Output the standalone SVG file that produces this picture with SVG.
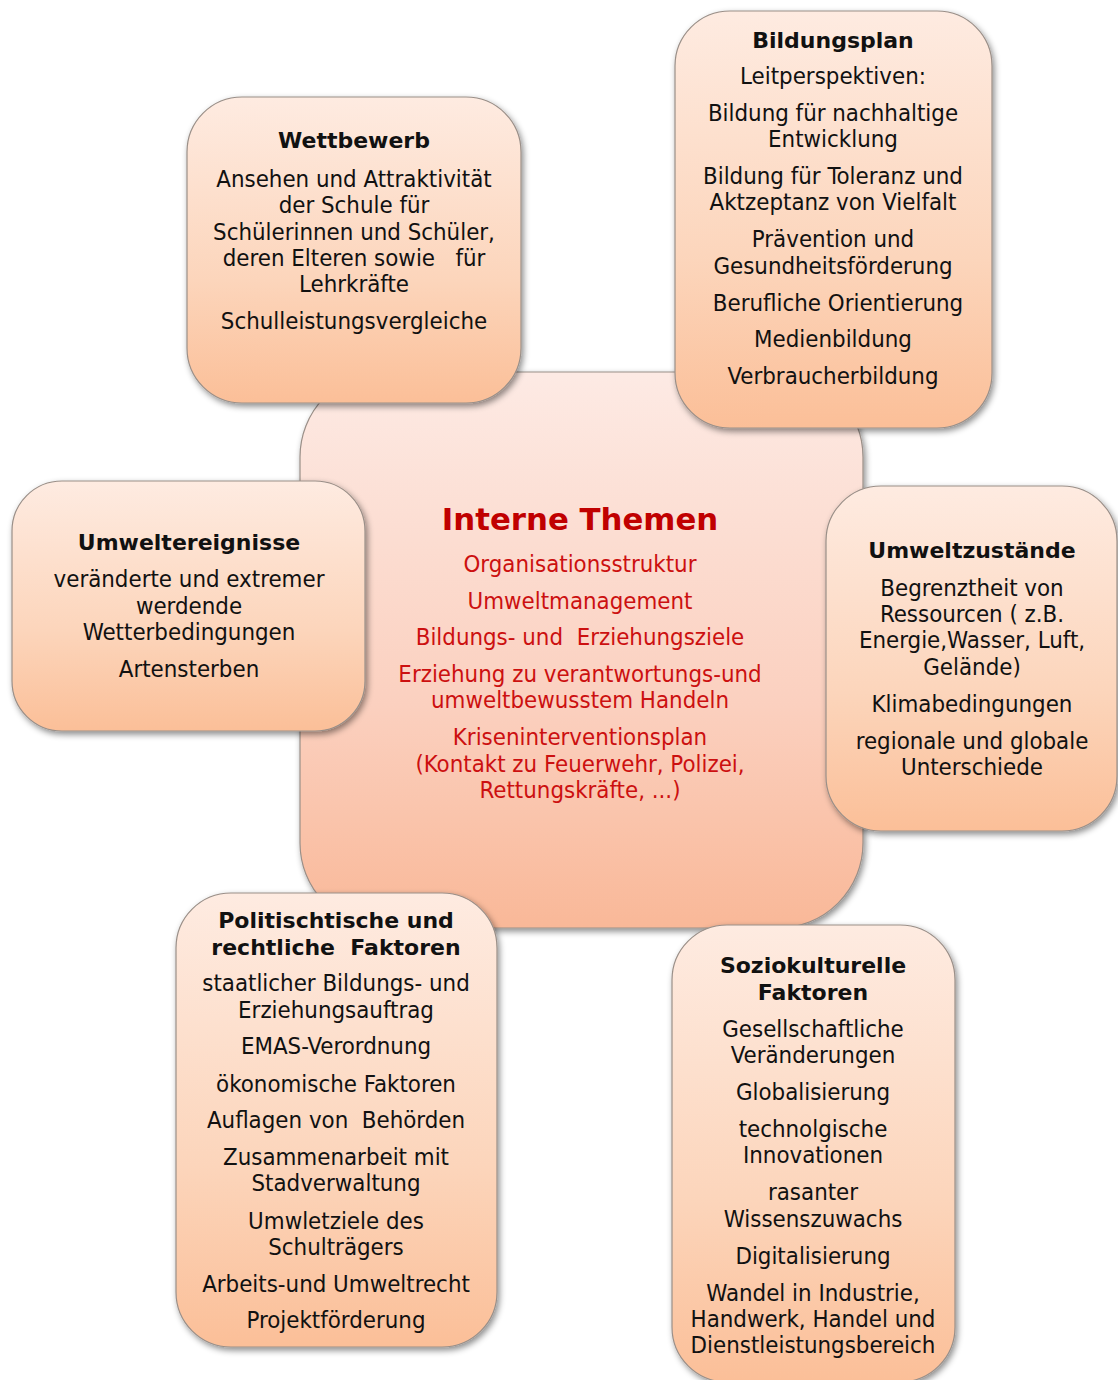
<svg xmlns="http://www.w3.org/2000/svg" width="1118" height="1380" viewBox="0 0 1118 1380">
<defs>
<linearGradient id="gSat" x1="0" y1="0" x2="0" y2="1">
<stop offset="0" stop-color="#feebe1"/>
<stop offset="0.6" stop-color="#fcd5bb"/>
<stop offset="1" stop-color="#fbbf98"/>
</linearGradient>
<linearGradient id="gCen" x1="0" y1="0" x2="0" y2="1">
<stop offset="0" stop-color="#fdeae4"/>
<stop offset="0.6" stop-color="#fbd0bf"/>
<stop offset="1" stop-color="#f9b898"/>
</linearGradient>
<filter id="sh" x="-10%" y="-10%" width="125%" height="125%">
<feDropShadow dx="2" dy="3" stdDeviation="3" flood-color="#000" flood-opacity="0.45"/>
</filter>
</defs>
<style>
.box{stroke:#9a8f88;stroke-width:1.2;filter:url(#sh)}
.sat{fill:url(#gSat)}
.cen{fill:url(#gCen)}
text{font-family:"DejaVu Sans Condensed","DejaVu Sans",sans-serif;font-size:23.8px;fill:#111;text-anchor:middle}
.t{font-family:"DejaVu Sans","Liberation Sans",sans-serif;font-weight:bold;font-size:22px}
.r{fill:#cc1010}
.rt{font-family:"DejaVu Sans","Liberation Sans",sans-serif;font-weight:bold;font-size:30.8px;fill:#c00000}
</style>
<g id="connectors"/>
<g id="interne-themen">
<rect class="box cen" x="300" y="372" width="563" height="556" rx="85"/>
<text class="rt" x="580" y="530">Interne Themen</text>
<text class="r" x="580" y="572">Organisationsstruktur</text>
<text class="r" x="580" y="609">Umweltmanagement</text>
<text class="r" x="580" y="645" xml:space="preserve">Bildungs- und  Erziehungsziele</text>
<text class="r" x="580" y="682">Erziehung zu verantwortungs-und</text>
<text class="r" x="580" y="708">umweltbewusstem Handeln</text>
<text class="r" x="580" y="745">Kriseninterventionsplan</text>
<text class="r" x="580" y="772">(Kontakt zu Feuerwehr, Polizei,</text>
<text class="r" x="580" y="798">Rettungskräfte, ...)</text>
</g>
<g id="wettbewerb">
<rect class="box sat" x="187" y="97" width="334" height="306" rx="55"/>
<text class="t" x="354" y="148">Wettbewerb</text>
<text x="354" y="187">Ansehen und Attraktivität</text>
<text x="354" y="213">der Schule für</text>
<text x="354" y="240">Schülerinnen und Schüler,</text>
<text x="354" y="266" xml:space="preserve">deren Elteren sowie   für</text>
<text x="354" y="292">Lehrkräfte</text>
<text x="354" y="329">Schulleistungsvergleiche</text>
</g>
<g id="bildungsplan">
<rect class="box sat" x="675" y="11" width="317" height="417" rx="55"/>
<text class="t" x="833" y="48">Bildungsplan</text>
<text x="833" y="84">Leitperspektiven:</text>
<text x="833" y="121">Bildung für nachhaltige</text>
<text x="833" y="147">Entwicklung</text>
<text x="833" y="184">Bildung für Toleranz und</text>
<text x="833" y="210">Aktzeptanz von Vielfalt</text>
<text x="833" y="247">Prävention und</text>
<text x="833" y="274">Gesundheitsförderung</text>
<text x="838" y="311">Berufliche Orientierung</text>
<text x="833" y="347">Medienbildung</text>
<text x="833" y="384">Verbraucherbildung</text>
</g>
<g id="umweltereignisse">
<rect class="box sat" x="12" y="481" width="353" height="250" rx="50"/>
<text class="t" x="189" y="550">Umweltereignisse</text>
<text x="189" y="587">veränderte und extremer</text>
<text x="189" y="614">werdende</text>
<text x="189" y="640">Wetterbedingungen</text>
<text x="189" y="677">Artensterben</text>
</g>
<g id="umweltzustaende">
<rect class="box sat" x="826" y="486" width="291" height="345" rx="55"/>
<text class="t" x="972" y="558">Umweltzustände</text>
<text x="972" y="596">Begrenztheit von</text>
<text x="972" y="622">Ressourcen ( z.B.</text>
<text x="972" y="648">Energie,Wasser, Luft,</text>
<text x="972" y="675">Gelände)</text>
<text x="972" y="712">Klimabedingungen</text>
<text x="972" y="749">regionale und globale</text>
<text x="972" y="775">Unterschiede</text>
</g>
<g id="politische-faktoren">
<rect class="box sat" x="176" y="893" width="321" height="454" rx="55"/>
<text class="t" x="336" y="928">Politischtische und</text>
<text class="t" x="336" y="955" xml:space="preserve">rechtliche  Faktoren</text>
<text x="336" y="991">staatlicher Bildungs- und</text>
<text x="336" y="1018">Erziehungsauftrag</text>
<text x="336" y="1054">EMAS-Verordnung</text>
<text x="336" y="1092">ökonomische Faktoren</text>
<text x="336" y="1128" xml:space="preserve">Auflagen von  Behörden</text>
<text x="336" y="1165">Zusammenarbeit mit</text>
<text x="336" y="1191">Stadverwaltung</text>
<text x="336" y="1229">Umwletziele des</text>
<text x="336" y="1255">Schulträgers</text>
<text x="336" y="1292">Arbeits-und Umweltrecht</text>
<text x="336" y="1328">Projektförderung</text>
</g>
<g id="soziokulturelle-faktoren">
<rect class="box sat" x="672" y="925" width="283" height="457" rx="55"/>
<text class="t" x="813" y="973">Soziokulturelle</text>
<text class="t" x="813" y="1000">Faktoren</text>
<text x="813" y="1037">Gesellschaftliche</text>
<text x="813" y="1063">Veränderungen</text>
<text x="813" y="1100">Globalisierung</text>
<text x="813" y="1137">technolgische</text>
<text x="813" y="1163">Innovationen</text>
<text x="813" y="1200">rasanter</text>
<text x="813" y="1227">Wissenszuwachs</text>
<text x="813" y="1264">Digitalisierung</text>
<text x="813" y="1301">Wandel in Industrie,</text>
<text x="813" y="1327">Handwerk, Handel und</text>
<text x="813" y="1353">Dienstleistungsbereich</text>
</g>
</svg>
